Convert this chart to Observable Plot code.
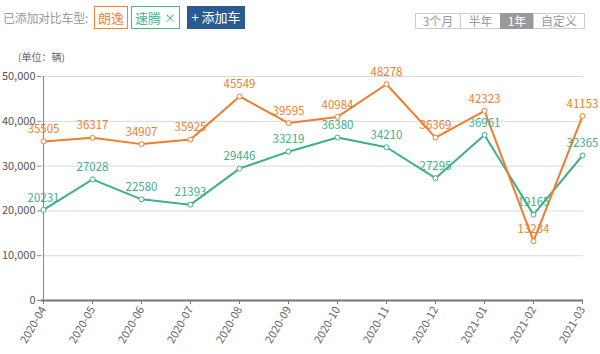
<!DOCTYPE html>
<html><head><meta charset="utf-8">
<script src="https://cdn.jsdelivr.net/npm/d3@7"></script>
<script src="https://cdn.jsdelivr.net/npm/@observablehq/plot@0.6"></script>
<style>
body{margin:0;background:#fff;font-family:"Noto Sans CJK SC","Noto Sans",sans-serif;}
#wrap{position:relative;width:600px;height:354px;overflow:hidden;}
#hdr{position:absolute;left:0;top:0;width:600px;height:40px;}
.a{position:absolute;box-sizing:border-box;font-size:13px;line-height:21px;text-align:center;white-space:nowrap;}
.s{position:absolute;box-sizing:border-box;font-size:12px;line-height:14px;text-align:center;color:#999;border:1px solid #ccc;height:16px;top:13px;}
#chart{position:absolute;left:0;top:40px;}
#unit{position:absolute;left:18px;top:49px;font-size:10px;color:#666;}
</style></head>
<body><div id="wrap">
<div id="hdr">
 <div class="a" style="left:3px;top:7px;color:#999;font-size:12px;letter-spacing:-0.3px;">已添加对比车型:</div>
 <div class="a" style="left:94px;top:6px;width:34px;height:23px;border:1px solid #f0852f;color:#f0852f;">朗逸</div>
 <div class="a" style="left:131px;top:6px;width:49px;height:23px;border:1px solid #4cb48e;color:#4cb48e;">速腾 <span style="font-size:12px">×</span></div>
 <div class="a" style="left:187px;top:6px;width:58px;height:23px;background:#2b5b8e;color:#fff;">+ 添加车</div>
 <div class="s" style="left:415px;width:46px;">3个月</div>
 <div class="s" style="left:460px;width:41px;">半年</div>
 <div class="s" style="left:500px;width:34px;background:#999;color:#fff;border-color:#999;">1年</div>
 <div class="s" style="left:533px;width:52px;">自定义</div>
</div>
<div id="unit">(单位：辆)</div>
<div id="chart"></div>
</div>
<script>
const months = ["2020-04","2020-05","2020-06","2020-07","2020-08","2020-09","2020-10","2020-11","2020-12","2021-01","2021-02","2021-03"];
const langyi = [35505,36317,34907,35925,45549,39595,40984,48278,36369,42323,13234,41153];
const suteng = [20231,27028,22580,21393,29446,33219,36380,34210,27295,36961,19165,32365];
const yTicks = [0,10000,20000,30000,40000,50000];
const orange = "#f07d2a", green = "#3fb086";

const dL = months.map((m,i)=>({m, v:langyi[i]}));
const dS = months.map((m,i)=>({m, v:suteng[i]}));

const chart = Plot.plot({
  width:600, height:314,
  marginLeft:41, marginRight:17, marginTop:36, marginBottom:54,
  style:{fontFamily:'"Noto Sans CJK SC","Noto Sans",sans-serif', fontSize:"11px", color:"#555", background:"transparent"},
  x:{type:"point", domain:months, padding:0, label:null},
  y:{domain:[0,50000], label:null},
  marks:[
    Plot.ruleY(yTicks,{stroke:"#d9d9d9", strokeWidth:1}),
    Plot.axisY({ticks:yTicks, tickFormat:d3.format(","), tickSize:4, tickPadding:2, stroke:"#888", fill:"#555", fontSize:11}),
    Plot.ruleX([months[0]],{y1:0,y2:50000,stroke:"#888",strokeWidth:1}),
    Plot.axisX({tickRotate:-60, tickSize:4, tickPadding:3, stroke:"#777", fill:"#666", fontSize:11}),
    Plot.ruleY([0],{stroke:"#777", strokeWidth:2}),
    Plot.line(dS,{x:"m", y:"v", stroke:green, strokeWidth:2}),
    Plot.line(dL,{x:"m", y:"v", stroke:orange, strokeWidth:2}),
    Plot.dot(dS,{x:"m", y:"v", r:2.5, fill:"#fff", stroke:green, strokeWidth:1}),
    Plot.dot(dL,{x:"m", y:"v", r:2.5, fill:"#fff", stroke:orange, strokeWidth:1}),
    Plot.text(dS,{x:"m", y:"v", text:d=>String(d.v), dy:-12, fill:green, fontSize:11.5}),
    Plot.text(dL,{x:"m", y:"v", text:d=>String(d.v), dy:-12, fill:orange, fontSize:11.5})
  ]
});
document.getElementById("chart").appendChild(chart);
</script>
</body></html>
